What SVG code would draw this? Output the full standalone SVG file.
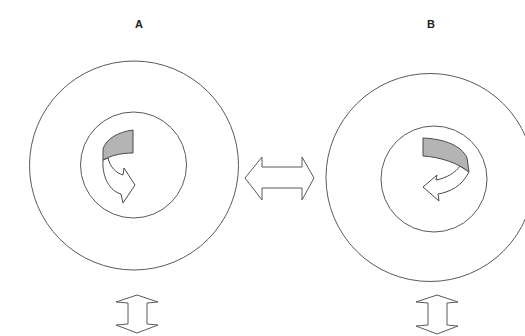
<svg xmlns="http://www.w3.org/2000/svg" width="525" height="336" viewBox="0 0 525 336">
<style>
.ring{fill:none;stroke:#5a5a5a;stroke-width:1}
.band{fill:#b4b4b4;stroke:#4a4a4a;stroke-width:1;stroke-linejoin:round}
.tail{fill:#ffffff;stroke:#4a4a4a;stroke-width:1;stroke-linejoin:round}
.dbl{fill:#ffffff;stroke:#5a5a5a;stroke-width:1;stroke-linejoin:miter}
.lbl{font-family:"Liberation Sans",Arial,sans-serif;font-size:11px;font-weight:bold;fill:#222;text-anchor:middle}
</style>
<rect width="525" height="336" fill="#ffffff"/>
<g id="nodeA">
  <text class="lbl" x="139" y="28">A</text>
  <circle class="ring" cx="134" cy="165.5" r="104.5"/>
  <circle class="ring" cx="133.5" cy="165" r="53"/>
  <path class="tail" d="M103,160 C102,178 110,191 121,194 L123,203 L135,185 L124,168 L123,175 C116,173 110,167 108,158 Z"/>
  <path class="band" d="M133,130 C118,132 106,139 103,149 L103,160 C110,156 120,153 133,153 Z"/>
</g>
<g id="nodeB">
  <text class="lbl" x="431" y="28">B</text>
  <circle class="ring" cx="430" cy="177.5" r="104"/>
  <circle class="ring" cx="434" cy="179" r="53"/>
  <path class="tail" d="M469,172 C462,186 450,192 438,194 L439,201 L423,187 L437,175 L436,180 C447,178 456,172 460,166 Z"/>
  <path class="band" d="M423,138 C445,139 462,146 467,158 L469,172 C458,163 440,157 423,156 Z"/>
</g>
<g id="connectors">
  <path class="dbl" d="M245,178 L262,157 L262,167 L302,167 L302,157 L314,178 L302,200 L302,188 L262,188 L262,200 Z"/>
  <path class="dbl" d="M137,295 L158,302 L147,303 L147,324 L158,325 L137,333 L116,325 L128,324 L128,303 L116,302 Z"/>
  <path class="dbl" d="M437,295 L458,302 L447,303 L447,325 L458,326 L437,334 L416,326 L428,325 L428,303 L416,302 Z"/>
</g>
</svg>
